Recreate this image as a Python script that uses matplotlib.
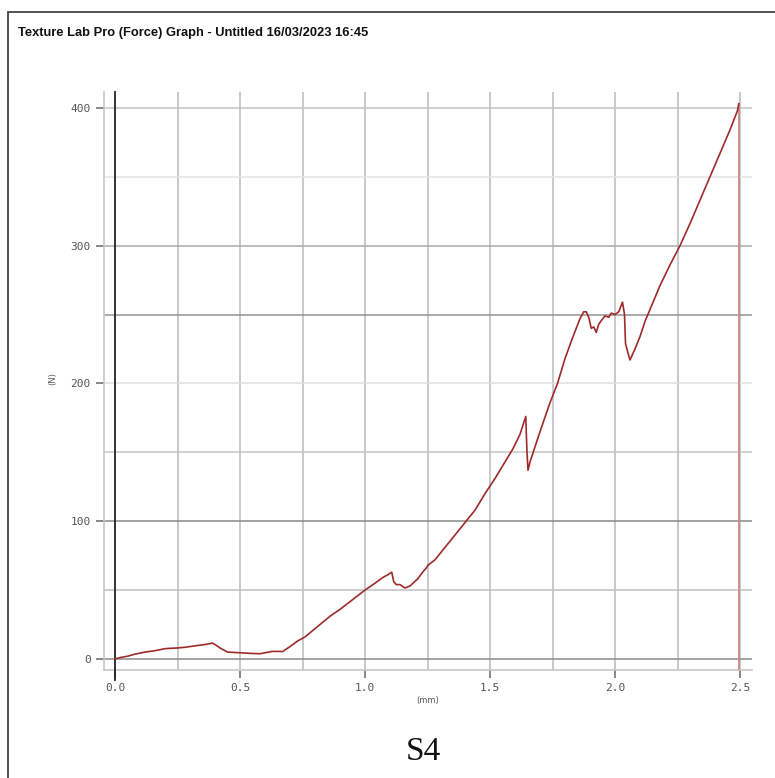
import matplotlib
matplotlib.use("Agg")
import matplotlib.pyplot as plt
from matplotlib.patches import Rectangle

# Force vs. distance trace
distance_mm = [
    0.00, 0.02, 0.05, 0.08, 0.12, 0.16, 0.20, 0.25, 0.28, 0.32, 0.36, 0.39,
    0.40, 0.42, 0.44, 0.45, 0.50, 0.55, 0.58, 0.60, 0.63, 0.66, 0.67, 0.70,
    0.73, 0.76, 0.78, 0.82, 0.86, 0.90, 0.95, 1.00, 1.04, 1.07, 1.09, 1.107,
    1.115, 1.125, 1.14, 1.16, 1.18, 1.21, 1.235, 1.245, 1.252, 1.28, 1.32,
    1.36, 1.40, 1.44, 1.48, 1.52, 1.56, 1.59, 1.62, 1.643, 1.648, 1.652, 1.66,
    1.70, 1.74, 1.77, 1.80, 1.83, 1.86, 1.875, 1.885, 1.895, 1.905, 1.915,
    1.925, 1.935, 1.947, 1.96, 1.975, 1.985, 2.00, 2.015, 2.03, 2.038, 2.042,
    2.052, 2.06, 2.08, 2.10, 2.12, 2.15, 2.18, 2.22, 2.26, 2.30, 2.34, 2.38,
    2.42, 2.46, 2.49, 2.495,
]
force_n = [
    0, 1, 2, 3.5, 5, 6, 7.5, 8, 8.5, 9.5, 10.5, 11.5,
    10.5, 8, 6, 5, 4.5, 4, 3.8, 4.5, 5.5, 5.5, 5.3, 9,
    13, 16, 19, 25, 31, 36, 43, 50, 55, 59, 61, 63,
    56, 54, 54, 51.5, 53, 58, 64, 66, 68, 72, 81,
    90, 99, 108, 120, 131, 143, 152, 163, 176, 150, 137, 143,
    165, 186, 200, 218, 233, 247, 252, 252, 248, 240, 241,
    237, 243, 246, 249, 248, 251, 250, 252, 259, 250, 229,
    222, 217, 225, 234, 245, 258, 271, 286, 300, 316, 333, 350,
    367, 384, 398, 403,
]

x_ticks = [0.0, 0.5, 1.0, 1.5, 2.0, 2.5]
x_tick_labels = ["0.0", "0.5", "1.0", "1.5", "2.0", "2.5"]
y_ticks = [0, 100, 200, 300, 400]
y_tick_labels = ["0", "100", "200", "300", "400"]

title_text = "Texture Lab Pro (Force) Graph - Untitled 16/03/2023 16:45"
caption_text = "S4"

W, H = 775, 778
fig = plt.figure(figsize=(W / 100, H / 100), dpi=100)

# outer frame of the report page
fig.add_artist(Rectangle((8 / W, -0.05), 1.2, 1 - 12 / H + 0.05,
                         transform=fig.transFigure, fill=False,
                         edgecolor="#333333", linewidth=1.2))

fig.text(18 / W, 1 - 33 / H, title_text, fontsize=9.3, fontweight="bold",
         family="Liberation Sans", color="#111111", va="center", ha="left")

ax = fig.add_axes([104 / W, 1 - 670 / H, (752 - 104) / W, (670 - 92) / H])
ax.set_xlim(-0.044, 2.548)
ax.set_ylim(-8, 411.5)

# grid: vertical every 0.25 mm, horizontal every 50 N
for gx in [0.25 * i for i in range(1, 11)]:
    ax.axvline(gx, color="#bababa", linewidth=1.1, zorder=1)
grid_shades = {0: "#8c8c8c", 50: "#c0c0c0", 100: "#8a8a8a", 150: "#c6c6c6",
               200: "#e0e0e0", 250: "#939393", 300: "#aaaaaa", 350: "#e4e4e4",
               400: "#c2c2c2"}
for gy, col in grid_shades.items():
    ax.axhline(gy, color=col, linewidth=1.1, zorder=1)

# zero-distance axis line
ax.plot([0, 0], [-15, 411.5], color="#222222", linewidth=1.3, zorder=3,
        clip_on=False)

ax.plot(distance_mm, force_n, color="#9e2b2b", linewidth=1.2, zorder=4)
ax.plot([distance_mm[-1], distance_mm[-1]], [force_n[-1], -8],
        color="#c98a8a", linewidth=1.3, zorder=3)

for side in ("top", "right"):
    ax.spines[side].set_visible(False)
for side in ("left", "bottom"):
    ax.spines[side].set_color("#c8c8c8")
    ax.spines[side].set_linewidth(1.2)

ax.set_xticks(x_ticks)
ax.set_xticklabels(x_tick_labels)
ax.set_yticks(y_ticks)
ax.set_yticklabels(y_tick_labels)
ax.tick_params(axis="both", colors="#666666", labelsize=8, length=6,
               width=1.1, labelcolor="#555555")
for lab in ax.get_xticklabels() + ax.get_yticklabels():
    lab.set_family("DejaVu Sans Mono")

ax.set_xlabel("(mm)", fontsize=6, color="#555555", labelpad=2)
ax.set_ylabel("(N)", fontsize=6, color="#555555", labelpad=4)
ax.yaxis.set_label_coords(-0.072, 0.505)

fig.text(423 / W, 1 - 752 / H, caption_text, fontsize=24,
         family="Liberation Serif", color="#111111", ha="center", va="center")

fig.savefig("out.png", dpi=100)
